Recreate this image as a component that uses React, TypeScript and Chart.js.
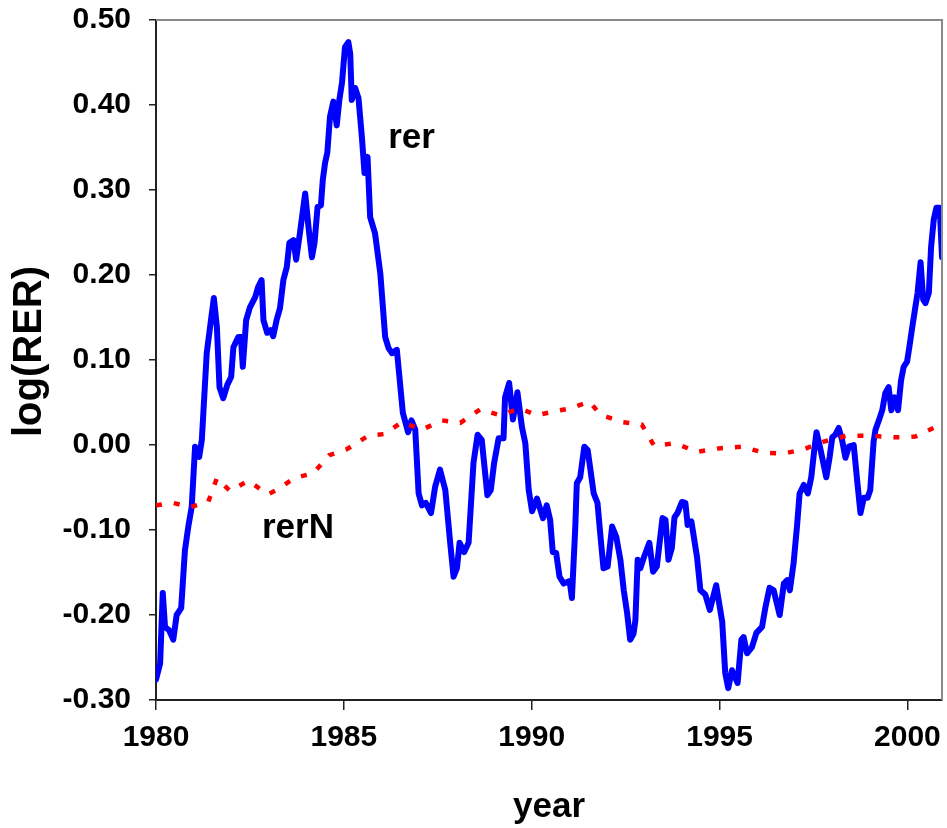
import React, { useEffect, useRef } from 'react';
import { Chart, registerables } from 'chart.js';

Chart.register(...registerables);

// ---- data (decimal years, log values) ----
const RER_YEARS = [
  1980.00, 1980.11, 1980.18, 1980.24, 1980.35, 1980.46, 1980.55, 1980.67, 1980.77, 1980.86,
  1980.95, 1981.04, 1981.15, 1981.22, 1981.35, 1981.44, 1981.54, 1981.62, 1981.69, 1981.79,
  1981.90, 1982.00, 1982.06, 1982.19, 1982.26, 1982.31, 1982.40, 1982.50, 1982.64, 1982.72,
  1982.81, 1982.86, 1982.96, 1983.05, 1983.12, 1983.21, 1983.30, 1983.39, 1983.48, 1983.55,
  1983.66, 1983.73, 1983.83, 1983.97, 1984.06, 1984.15, 1984.22, 1984.30, 1984.39, 1984.44,
  1984.50, 1984.56, 1984.63, 1984.72, 1984.81, 1984.88, 1984.95, 1985.03, 1985.12, 1985.17,
  1985.21, 1985.30, 1985.39, 1985.48, 1985.55, 1985.63, 1985.70, 1985.83, 1985.97, 1986.10,
  1986.19, 1986.28, 1986.41, 1986.57, 1986.71, 1986.80, 1986.90, 1986.99, 1987.08, 1987.18,
  1987.32, 1987.43, 1987.56, 1987.70, 1987.83, 1987.92, 1988.01, 1988.08, 1988.20, 1988.32,
  1988.45, 1988.56, 1988.67, 1988.82, 1988.91, 1989.00, 1989.12, 1989.25, 1989.29, 1989.40,
  1989.50, 1989.62, 1989.74, 1989.83, 1989.92, 1990.01, 1990.14, 1990.30, 1990.40, 1990.49,
  1990.56, 1990.65, 1990.74, 1990.85, 1991.01, 1991.07, 1991.16, 1991.20, 1991.29, 1991.40,
  1991.49, 1991.65, 1991.75, 1991.84, 1991.91, 1992.02, 1992.14, 1992.25, 1992.36, 1992.45,
  1992.54, 1992.62, 1992.71, 1992.76, 1992.82, 1992.89, 1992.98, 1993.13, 1993.23, 1993.33,
  1993.48, 1993.56, 1993.64, 1993.73, 1993.80, 1993.88, 1994.00, 1994.09, 1994.15, 1994.25,
  1994.40, 1994.49, 1994.62, 1994.74, 1994.91, 1995.07, 1995.15, 1995.23, 1995.33, 1995.48,
  1995.58, 1995.64, 1995.73, 1995.86, 1995.98, 1996.13, 1996.22, 1996.33, 1996.44, 1996.60,
  1996.71, 1996.80, 1996.87, 1996.97, 1997.06, 1997.13, 1997.24, 1997.35, 1997.44, 1997.52,
  1997.58, 1997.67, 1997.76, 1997.84, 1997.93, 1998.00, 1998.08, 1998.17, 1998.26, 1998.35,
  1998.44, 1998.57, 1998.66, 1998.75, 1998.84, 1998.94, 1999.01, 1999.10, 1999.15, 1999.24,
  1999.33, 1999.41, 1999.50, 1999.57, 1999.66, 1999.75, 1999.83, 1999.90, 1999.99, 2000.05,
  2000.13, 2000.21, 2000.27, 2000.35, 2000.42, 2000.48, 2000.57, 2000.63, 2000.70, 2000.77,
  2000.86, 2000.92,
];

const RER_VALUES = [
  -0.276, -0.257, -0.174, -0.214, -0.218, -0.229, -0.200, -0.192, -0.124, -0.096,
  -0.073, -0.002, -0.014, 0.006, 0.108, 0.139, 0.173, 0.139, 0.068, 0.055,
  0.071, 0.080, 0.115, 0.127, 0.127, 0.092, 0.147, 0.162, 0.174, 0.186,
  0.194, 0.147, 0.132, 0.135, 0.128, 0.147, 0.161, 0.194, 0.209, 0.238,
  0.241, 0.218, 0.249, 0.296, 0.256, 0.221, 0.238, 0.280, 0.282, 0.312,
  0.332, 0.344, 0.386, 0.404, 0.376, 0.406, 0.426, 0.468, 0.474, 0.460,
  0.406, 0.420, 0.408, 0.362, 0.320, 0.339, 0.268, 0.249, 0.202, 0.127,
  0.114, 0.108, 0.112, 0.038, 0.015, 0.029, 0.018, -0.057, -0.071, -0.068,
  -0.080, -0.049, -0.029, -0.053, -0.115, -0.155, -0.145, -0.115, -0.126, -0.115,
  -0.021, 0.012, 0.006, -0.059, -0.053, -0.021, 0.008, 0.008, 0.056, 0.073,
  0.030, 0.062, 0.021, 0.002, -0.053, -0.078, -0.063, -0.086, -0.071, -0.088,
  -0.126, -0.127, -0.155, -0.163, -0.160, -0.180, -0.096, -0.045, -0.038, -0.002,
  -0.006, -0.057, -0.068, -0.112, -0.145, -0.143, -0.096, -0.108, -0.135, -0.171,
  -0.198, -0.229, -0.222, -0.206, -0.135, -0.145, -0.133, -0.115, -0.149, -0.143,
  -0.086, -0.088, -0.135, -0.121, -0.085, -0.080, -0.067, -0.068, -0.094, -0.090,
  -0.132, -0.171, -0.176, -0.194, -0.165, -0.208, -0.268, -0.286, -0.265, -0.280,
  -0.229, -0.226, -0.245, -0.238, -0.221, -0.214, -0.191, -0.168, -0.171, -0.200,
  -0.163, -0.159, -0.171, -0.139, -0.096, -0.057, -0.047, -0.057, -0.038, -0.006,
  0.015, -0.002, -0.021, -0.038, -0.014, 0.009, 0.012, 0.020, 0.006, -0.015,
  -0.002, 0.000, -0.041, -0.080, -0.062, -0.062, -0.053, 0.004, 0.018, 0.029,
  0.041, 0.061, 0.068, 0.041, 0.056, 0.041, 0.076, 0.092, 0.098, 0.115,
  0.139, 0.162, 0.179, 0.215, 0.171, 0.167, 0.179, 0.233, 0.265, 0.279,
  0.279, 0.221,
];

const RERN_YEARS = [
  1980.00, 1980.44, 1980.91, 1981.39, 1981.62, 1981.97, 1982.46, 1982.81, 1982.98, 1983.21,
  1983.68, 1984.19, 1984.61, 1985.08, 1985.65, 1986.10, 1986.54, 1987.08, 1987.61, 1988.10,
  1988.63, 1989.16, 1989.69, 1990.14, 1990.65, 1991.01, 1991.54, 1991.82, 1992.40, 1992.93,
  1993.26, 1993.82, 1994.40, 1994.97, 1995.60, 1996.17, 1996.71, 1997.24, 1997.77, 1998.39,
  1999.01, 1999.68, 2000.21, 2000.74, 2000.92,
];

const RERN_VALUES = [
  -0.071, -0.068, -0.073, -0.067, -0.039, -0.054, -0.042, -0.053, -0.058, -0.053,
  -0.039, -0.033, -0.012, -0.005, 0.011, 0.013, 0.027, 0.018, 0.029, 0.026,
  0.042, 0.035, 0.043, 0.035, 0.040, 0.043, 0.051, 0.036, 0.027, 0.024,
  -0.001, 0.002, -0.008, -0.004, -0.002, -0.009, -0.010, -0.005, 0.004, 0.011,
  0.011, 0.009, 0.010, 0.021, 0.021,
];

const SERIES_NAMES = ['rer', 'rerN'];
const X_TICKS = [1980, 1985, 1990, 1995, 2000];
const Y_TICKS = [-0.3, -0.2, -0.1, 0.0, 0.1, 0.2, 0.3, 0.4, 0.5];
const X_TITLE = 'year';
const Y_TITLE = 'log(RER)';
const X_MIN = 1980;
const X_MAX = 2000.92;
const Y_MIN = -0.3;
const Y_MAX = 0.5;
// annotation anchors in data coordinates (left edge, baseline)
const LABEL_RER = { text: SERIES_NAMES[0], x: 1986.18, y: 0.349 };
const LABEL_RERN = { text: SERIES_NAMES[1], x: 1982.82, y: -0.109 };
// y-axis title centre, in data units of the y scale
const Y_TITLE_CENTER = 0.11;

const FONT_FAMILY = '"Liberation Sans", Arial, sans-serif';

const framePlugin = {
  id: 'frameAndLabels',
  afterDatasetsDraw(chart: any) {
    const { ctx, chartArea, scales } = chart;
    ctx.save();
    ctx.strokeStyle = '#8a8a8a';
    ctx.lineWidth = 2;
    ctx.beginPath();
    ctx.moveTo(chartArea.left, chartArea.top);
    ctx.lineTo(chartArea.right, chartArea.top);
    ctx.lineTo(chartArea.right, chartArea.bottom);
    ctx.stroke();
    ctx.fillStyle = '#000';
    ctx.font = `bold 35px ${FONT_FAMILY}`;
    ctx.textAlign = 'left';
    ctx.textBaseline = 'alphabetic';
    [LABEL_RER, LABEL_RERN].forEach((a) => {
      ctx.fillText(a.text, scales.x.getPixelForValue(a.x), scales.y.getPixelForValue(a.y));
    });
    // y-axis title
    ctx.translate(30, scales.y.getPixelForValue(Y_TITLE_CENTER));
    ctx.rotate(-Math.PI / 2);
    ctx.font = `bold 40px ${FONT_FAMILY}`;
    ctx.textAlign = 'center';
    ctx.textBaseline = 'middle';
    ctx.fillText(Y_TITLE, 0, 0);
    ctx.restore();
  },
};

export default function App() {
  const canvasRef = useRef<HTMLCanvasElement | null>(null);

  useEffect(() => {
    const canvas = canvasRef.current;
    if (!canvas) return;
    const rerData = RER_YEARS.map((x, i) => ({ x, y: RER_VALUES[i] }));
    const rernData = RERN_YEARS.map((x, i) => ({ x, y: RERN_VALUES[i] }));

    const chart = new Chart(canvas, {
      type: 'line',
      data: {
        datasets: [
          {
            label: SERIES_NAMES[1],
            data: rernData,
            borderColor: '#ff0000',
            borderWidth: 4.5,
            borderDash: [6, 12],
            pointRadius: 0,
            tension: 0,
            fill: false,
            order: 0,
          },
          {
            label: SERIES_NAMES[0],
            data: rerData,
            borderColor: '#0000ff',
            borderWidth: 6,
            pointRadius: 0,
            tension: 0,
            fill: false,
            borderJoinStyle: 'round',
            borderCapStyle: 'round',
            order: 1,
          },
        ],
      },
      options: {
        responsive: false,
        animation: false,
        events: [],
        layout: { padding: { top: 20, right: 5, left: 0, bottom: 0 } },
        plugins: {
          legend: { display: false },
          tooltip: { enabled: false },
          title: { display: false },
        },
        scales: {
          x: {
            type: 'linear',
            min: X_MIN,
            max: X_MAX,
            afterBuildTicks: (scale: any) => {
              scale.ticks = X_TICKS.map((v) => ({ value: v }));
            },
            afterFit: (scale: any) => {
              scale.height = 128;
              scale.paddingLeft = 0;
              scale.paddingRight = 0;
            },
            grid: {
              display: true,
              drawOnChartArea: false,
              drawTicks: true,
              tickLength: 10,
              color: '#222',
              lineWidth: 1.5,
            },
            border: { display: true, color: '#222', width: 2 },
            ticks: {
              autoSkip: false,
              maxRotation: 0,
              minRotation: 0,
              padding: 10,
              color: '#000',
              font: { family: FONT_FAMILY, size: 30, weight: 'bold' },
              callback: (v: any) => String(v),
            },
            title: {
              display: true,
              text: X_TITLE,
              color: '#000',
              font: { family: FONT_FAMILY, size: 35, weight: 'bold' },
              padding: { top: 0, bottom: 0 },
            },
          },
          y: {
            type: 'linear',
            min: Y_MIN,
            max: Y_MAX,
            afterBuildTicks: (scale: any) => {
              scale.ticks = Y_TICKS.map((v) => ({ value: v }));
            },
            afterFit: (scale: any) => {
              scale.width = 156;
              scale.paddingTop = 0;
              scale.paddingBottom = 0;
            },
            grid: {
              display: true,
              drawOnChartArea: false,
              drawTicks: true,
              tickLength: 7,
              color: '#222',
              lineWidth: 1.5,
            },
            border: { display: true, color: '#222', width: 2 },
            ticks: {
              autoSkip: false,
              padding: 18,
              color: '#000',
              font: { family: FONT_FAMILY, size: 30, weight: 'bold' },
              callback: (v: any) => Number(v).toFixed(2),
            },
            title: { display: false },
          },
        },
      },
      plugins: [framePlugin],
    } as any);

    return () => {
      chart.destroy();
    };
  }, []);

  return (
    <div style={{ position: 'fixed', left: 0, top: 0, width: 947, height: 828, background: '#fff' }}>
      <canvas ref={canvasRef} width={947} height={828} style={{ display: 'block' }} />
    </div>
  );
}
